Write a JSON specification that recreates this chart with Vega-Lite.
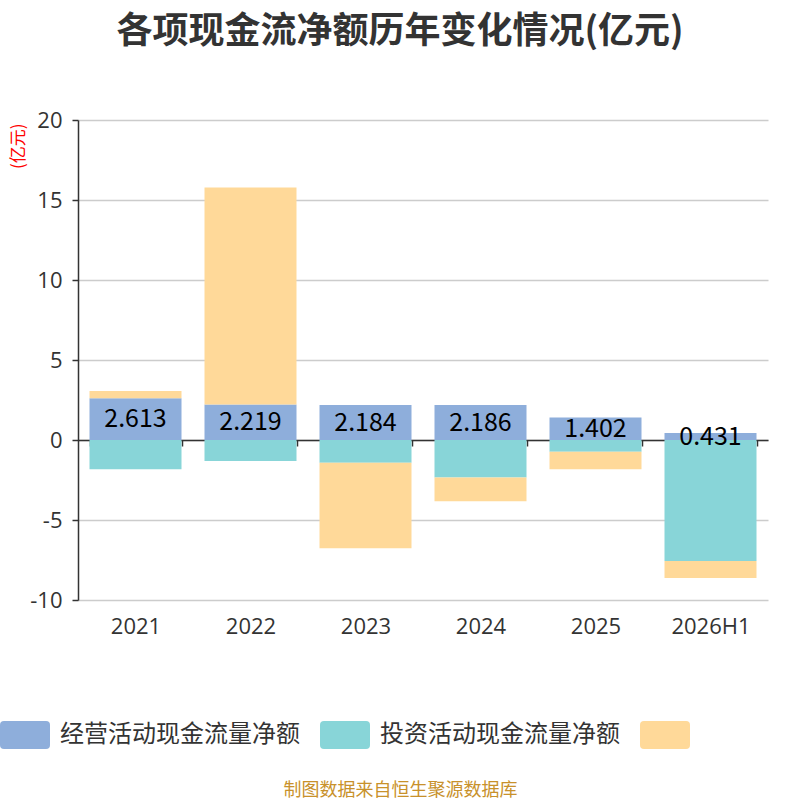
{
  "$schema": "https://vega.github.io/schema/vega-lite/v6.json",
  "width": 690,
  "height": 480,
  "autosize": {"type": "none"},
  "padding": {"left": 78, "top": 120, "right": 32, "bottom": 200},
  "background": "white",
  "title": {
    "text": "各项现金流净额历年变化情况(亿元)",
    "fontSize": 36,
    "fontWeight": "bold",
    "color": "#333333",
    "font": "Noto Sans CJK SC",
    "anchor": "middle",
    "dx": -23,
    "offset": 58
  },
  "config": {"view": {"stroke": null}, "font": "Noto Sans CJK SC"},
  "data": {
    "values": [
      {"year": "2021", "type": "经营活动现金流量净额", "o": 1, "value": 2.613},
      {"year": "2021", "type": "投资活动现金流量净额", "o": 2, "value": -1.83},
      {"year": "2021", "type": "筹资活动现金流量净额", "o": 3, "value": 0.45},
      {"year": "2022", "type": "经营活动现金流量净额", "o": 1, "value": 2.219},
      {"year": "2022", "type": "投资活动现金流量净额", "o": 2, "value": -1.31},
      {"year": "2022", "type": "筹资活动现金流量净额", "o": 3, "value": 13.57},
      {"year": "2023", "type": "经营活动现金流量净额", "o": 1, "value": 2.184},
      {"year": "2023", "type": "投资活动现金流量净额", "o": 2, "value": -1.42},
      {"year": "2023", "type": "筹资活动现金流量净额", "o": 3, "value": -5.35},
      {"year": "2024", "type": "经营活动现金流量净额", "o": 1, "value": 2.186},
      {"year": "2024", "type": "投资活动现金流量净额", "o": 2, "value": -2.35},
      {"year": "2024", "type": "筹资活动现金流量净额", "o": 3, "value": -1.48},
      {"year": "2025", "type": "经营活动现金流量净额", "o": 1, "value": 1.402},
      {"year": "2025", "type": "投资活动现金流量净额", "o": 2, "value": -0.73},
      {"year": "2025", "type": "筹资活动现金流量净额", "o": 3, "value": -1.10},
      {"year": "2026H1", "type": "经营活动现金流量净额", "o": 1, "value": 0.431},
      {"year": "2026H1", "type": "投资活动现金流量净额", "o": 2, "value": -7.56},
      {"year": "2026H1", "type": "筹资活动现金流量净额", "o": 3, "value": -1.07}
    ]
  },
  "layer": [
    {
      "mark": {"type": "bar"},
      "encoding": {
        "x": {
          "field": "year",
          "type": "nominal",
          "sort": null,
          "scale": {"paddingInner": 0.2, "paddingOuter": 0.1},
          "axis": {
            "title": "制图数据来自恒生聚源数据库",
            "titleColor": "#C8912B",
            "titleFontSize": 18,
            "titleFontWeight": "normal",
            "titlePadding": 144,
            "titleX": 322,
            "titleAlign": "center",
            "labelAngle": 0,
            "labelFont": "Open Sans",
            "labelFontSize": 22,
            "labelColor": "#333333",
            "offset": -160,
            "domainColor": "#333333",
            "domainWidth": 1.5,
            "ticks": true,
            "tickColor": "#333333",
            "tickSize": 6,
            "tickWidth": 1.5,
            "tickBand": "extent",
            "labelPadding": 170,
            "grid": false,
            "zindex": 0
          }
        },
        "y": {
          "field": "value",
          "type": "quantitative",
          "stack": "zero",
          "scale": {"domain": [-10, 20], "nice": false},
          "axis": {
            "title": "(亿元)",
            "titleColor": "#FF0000",
            "titleFontSize": 17,
            "titleFontWeight": "normal",
            "titleAngle": -90,
            "titleX": -60,
            "titleY": 3,
            "titleAlign": "right",
            "titleBaseline": "middle",
            "values": [-10, -5, 0, 5, 10, 15, 20],
            "labelExpr": "'' + datum.value",
            "labelFont": "Open Sans",
            "labelFontSize": 22,
            "labelColor": "#333333",
            "labelPadding": 10,
            "tickSize": 6,
            "tickColor": "#333333",
            "tickWidth": 1.5,
            "domainColor": "#333333",
            "domainWidth": 1.5,
            "gridColor": "#CCCCCC",
            "gridWidth": 1.5,
            "zindex": 0
          }
        },
        "color": {
          "field": "type",
          "type": "nominal",
          "scale": {
            "domain": ["经营活动现金流量净额", "投资活动现金流量净额", "筹资活动现金流量净额"],
            "range": ["#8EAEDB", "#88D5D8", "#FFD999"]
          },
          "legend": {
            "orient": "none",
            "legendX": -78,
            "legendY": 590,
            "direction": "horizontal",
            "title": null,
            "padding": 0,
            "symbolType": "M-0.84,-0.56 L0.84,-0.56 Q1,-0.56 1,-0.4 L1,0.4 Q1,0.56 0.84,0.56 L-0.84,0.56 Q-1,0.56 -1,0.4 L-1,-0.4 Q-1,-0.56 -0.84,-0.56 Z",
            "symbolSize": 2500,
            "symbolStrokeWidth": 0,
            "symbolOpacity": 1,
            "labelFontSize": 24,
            "labelColor": "#333333",
            "labelOffset": 10,
            "labelLimit": 400,
            "columnPadding": 20,
            "labelExpr": "datum.label === '筹资活动现金流量净额' ? '' : datum.label"
          }
        },
        "order": {"field": "o"}
      }
    },
    {
      "transform": [
        {"filter": "datum.o === 1"},
        {"calculate": "datum.value / 2", "as": "mid"}
      ],
      "mark": {"type": "text", "fontSize": 25, "color": "#000000", "baseline": "middle"},
      "encoding": {
        "x": {"field": "year", "type": "nominal", "sort": null},
        "y": {"field": "mid", "type": "quantitative", "scale": {"domain": [-10, 20], "nice": false}},
        "text": {"field": "value", "type": "quantitative", "format": ".3f"}
      }
    }
  ]
}
